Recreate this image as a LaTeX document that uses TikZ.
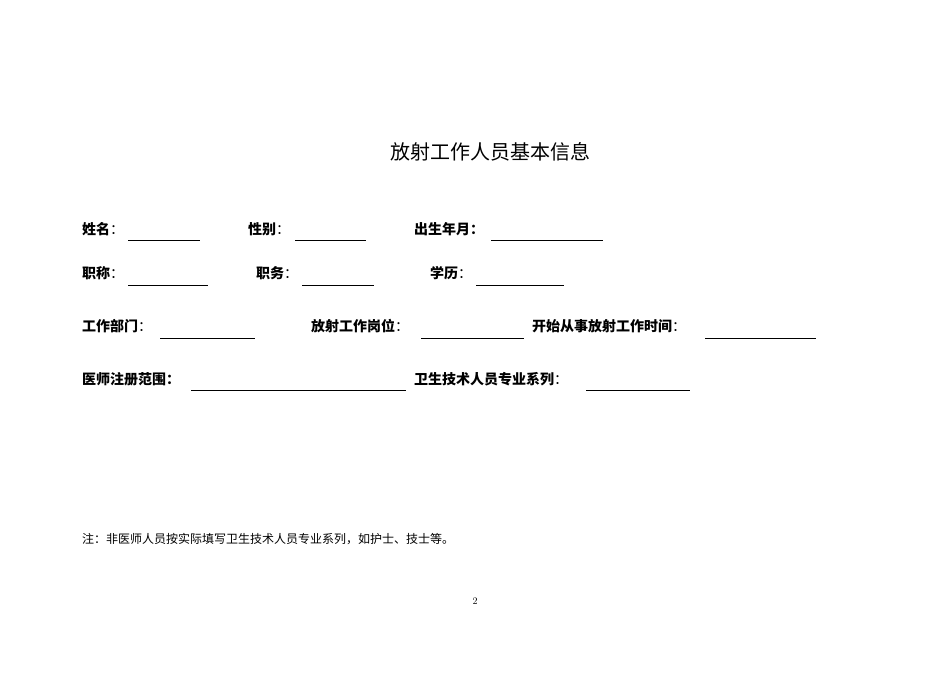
\documentclass[tikz,border=0pt]{standalone}
\usepackage{fontspec}
\newfontfamily\cjk{Noto Sans CJK SC}
\begin{document}
\begin{tikzpicture}[x=1pt,y=-1pt,
 lab/.style={anchor=west,inner sep=0pt,font=\cjk\bfseries\fontsize{14}{14}\selectfont},
 ul/.style={line width=0.8pt}]
\useasboundingbox (0,0) rectangle (950,672);
\node[inner sep=0pt,font=\cjk\fontsize{20}{20}\selectfont] (title) at (490,152) {放射工作人员基本信息};
% row 1
\node[lab] (a1) at (82,229) {姓名\mdseries ：};
\coordinate (a1s) at (128,240); \coordinate (a1e) at (200,240); \draw[ul] (a1s)--(a1e);
\node[lab] (a2) at (248,229) {性别\mdseries ：};
\coordinate (a2s) at (295,240); \coordinate (a2e) at (366,240); \draw[ul] (a2s)--(a2e);
\node[lab] (a3) at (414,229) {出生年月：};
\coordinate (a3s) at (491,240); \coordinate (a3e) at (603,240); \draw[ul] (a3s)--(a3e);
% row 2
\node[lab] (b1) at (82,273) {职称\mdseries ：};
\coordinate (b1s) at (128,285); \coordinate (b1e) at (208,285); \draw[ul] (b1s)--(b1e);
\node[lab] (b2) at (256,273) {职务\mdseries ：};
\coordinate (b2s) at (302,285); \coordinate (b2e) at (374,285); \draw[ul] (b2s)--(b2e);
\node[lab] (b3) at (430,273) {学历\mdseries ：};
\coordinate (b3s) at (476,285); \coordinate (b3e) at (564,285); \draw[ul] (b3s)--(b3e);
% row 3
\node[lab] (c1) at (82,326) {工作部门\mdseries ：};
\coordinate (c1s) at (160,338); \coordinate (c1e) at (255,338); \draw[ul] (c1s)--(c1e);
\node[lab] (c2) at (311,326) {放射工作岗位\mdseries ：};
\coordinate (c2s) at (421,338); \coordinate (c2e) at (524,338); \draw[ul] (c2s)--(c2e);
\node[lab] (c3) at (532,326) {开始从事放射工作时间\mdseries ：};
\coordinate (c3s) at (705,338); \coordinate (c3e) at (816,338); \draw[ul] (c3s)--(c3e);
% row 4
\node[lab] (d1) at (82,379) {医师注册范围：};
\coordinate (d1s) at (191,390); \coordinate (d1e) at (406,390); \draw[ul] (d1s)--(d1e);
\node[lab] (d2) at (414,379) {卫生技术人员专业系列\mdseries ：};
\coordinate (d2s) at (586,390); \coordinate (d2e) at (690,390); \draw[ul] (d2s)--(d2e);
% note
\node[anchor=west,inner sep=0pt,font=\cjk\fontsize{12}{12}\selectfont] (note) at (82,539) {注：非医师人员按实际填写卫生技术人员专业系列，如护士、技士等。};
\node[inner sep=0pt,font=\fontsize{10}{10}\selectfont] (pg) at (475,601) {2};
\end{tikzpicture}
\end{document}
